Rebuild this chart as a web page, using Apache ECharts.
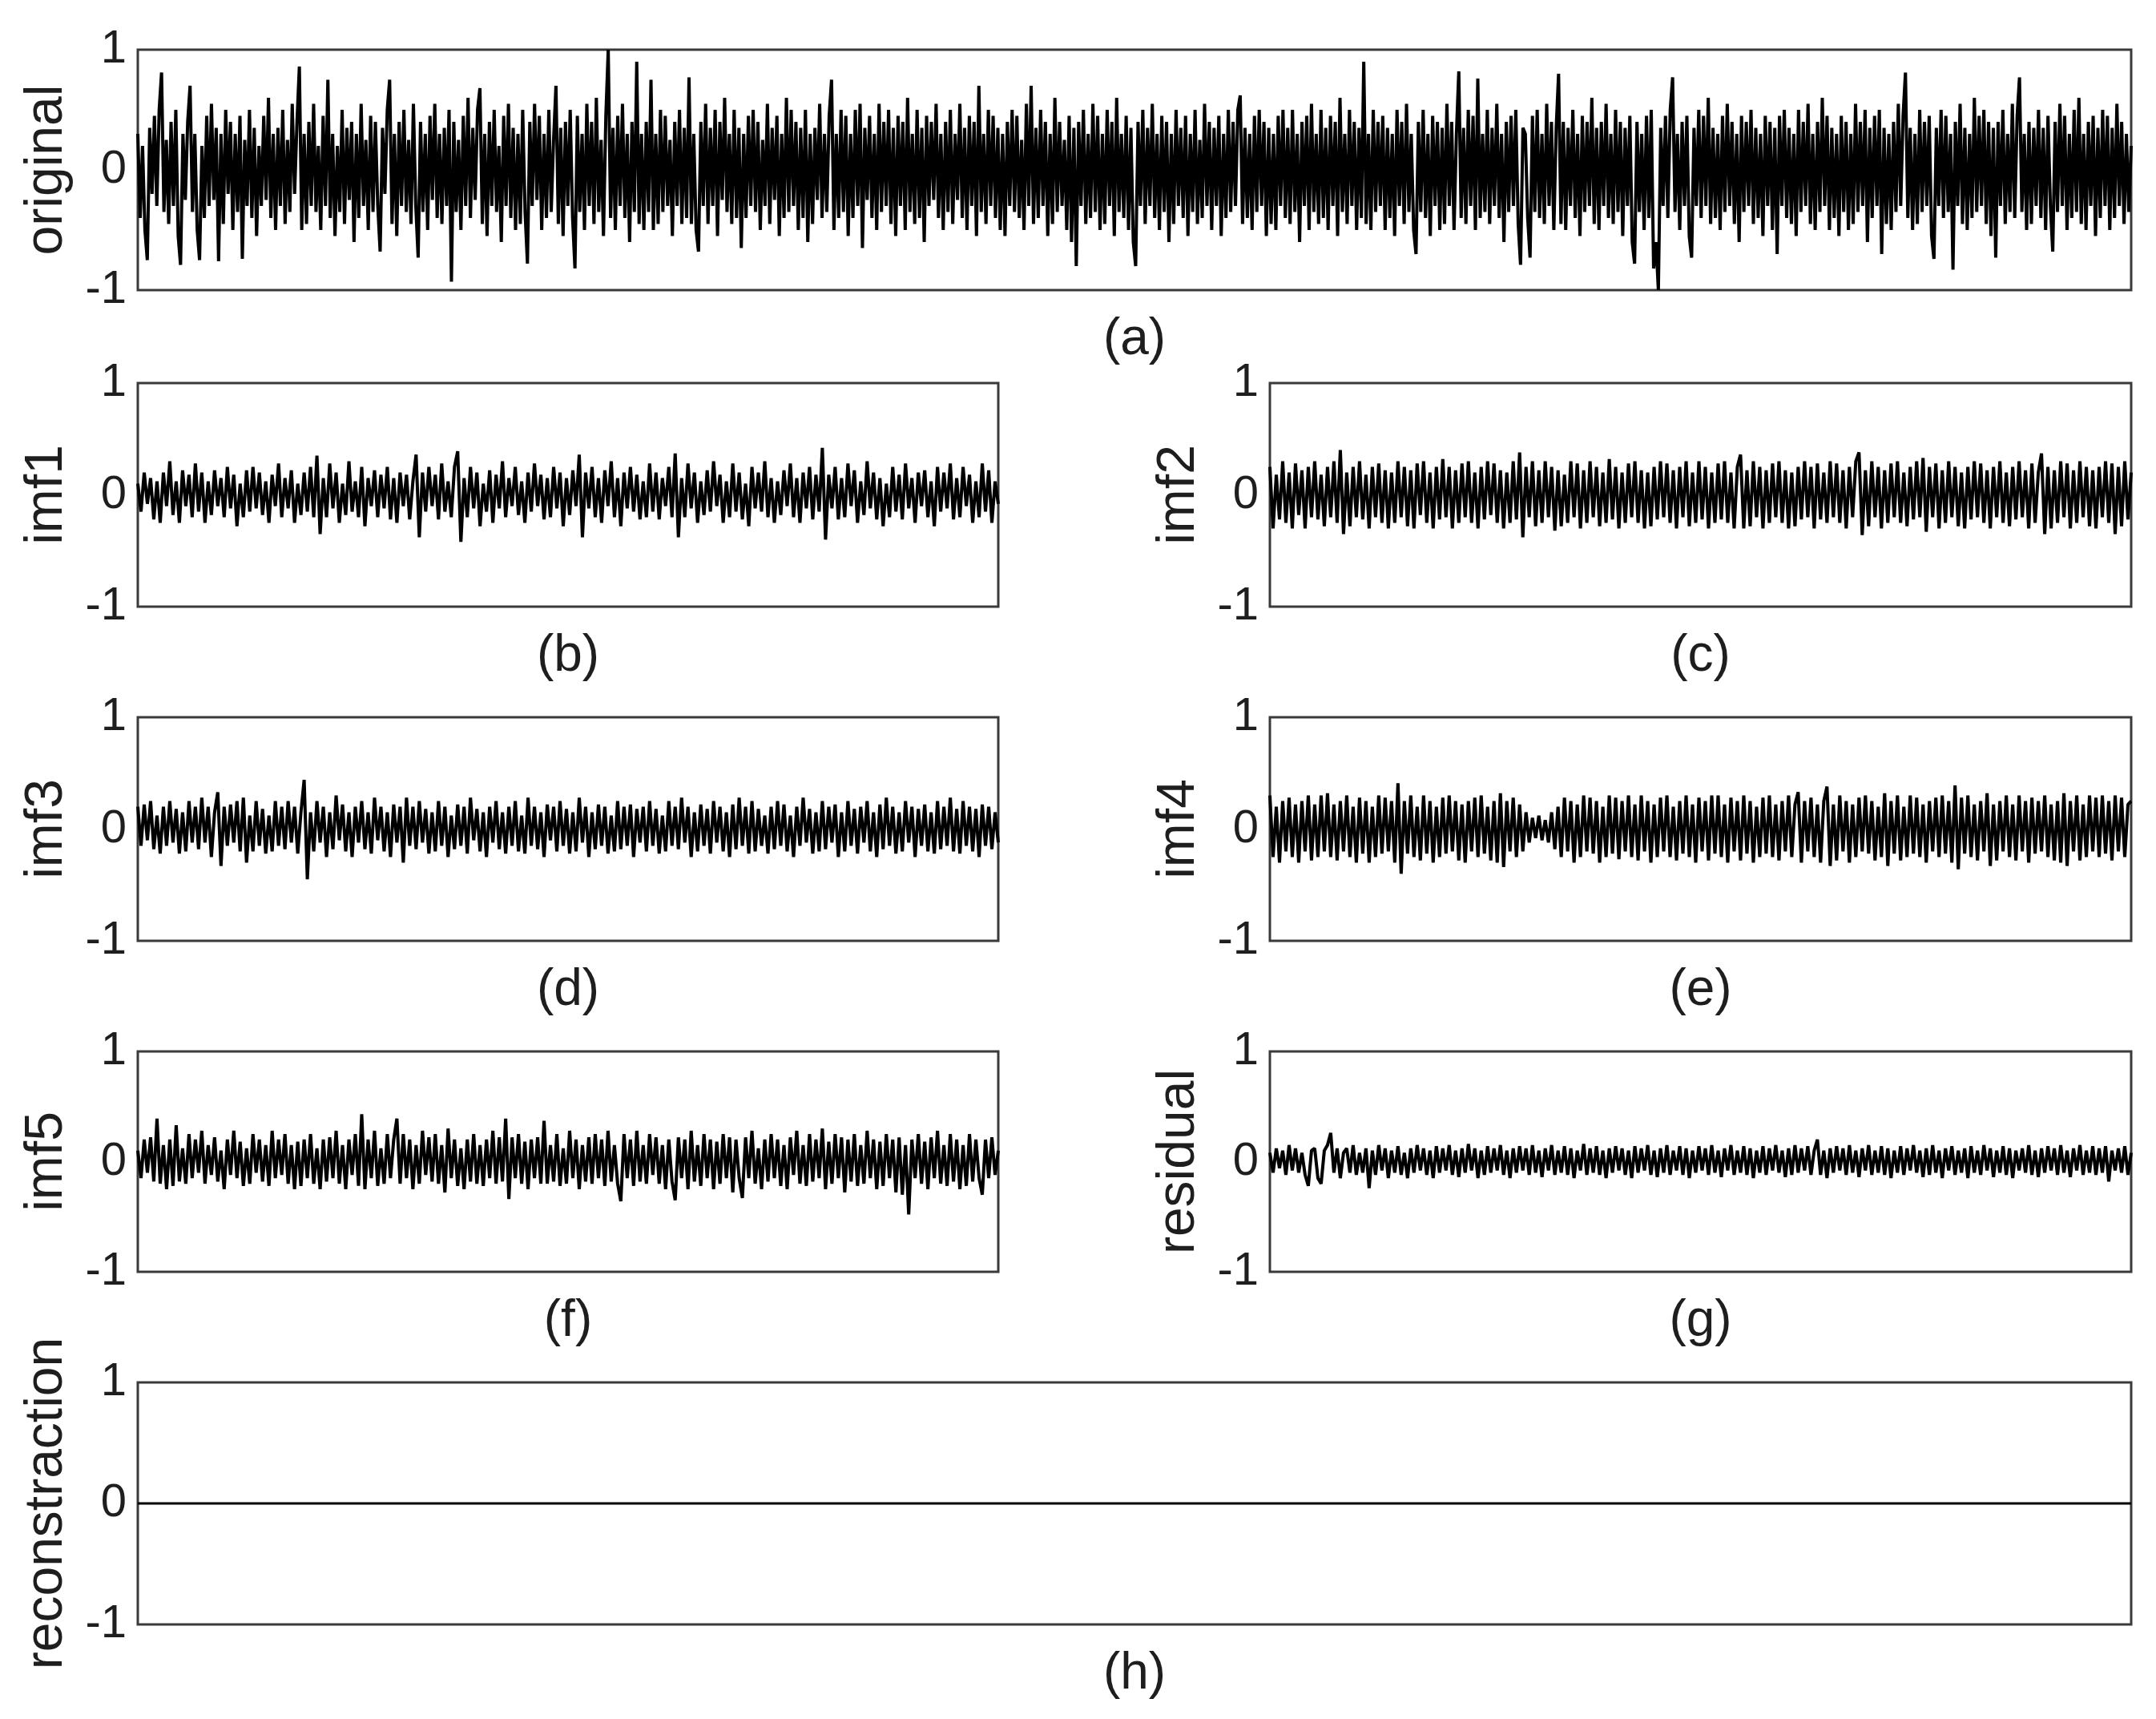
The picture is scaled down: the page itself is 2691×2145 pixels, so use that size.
<!DOCTYPE html>
<html>
<head>
<meta charset="utf-8">
<script src="https://cdn.jsdelivr.net/npm/echarts@6/dist/echarts.min.js"></script>
<style>html,body{margin:0;padding:0;background:#fff}#c{width:2691px;height:2145px}</style>
</head>
<body>
<div id="c"></div>
<script>
// ---- data (amplitude, normalised to the [-1,1] axes) ----
const panelNames = ['original','imf1','imf2','imf3','imf4','imf5','residual','reconstraction'];
const captions = ['(a)','(b)','(c)','(d)','(e)','(f)','(g)','(h)'];
const yTicks = [-1, 0, 1];

const original = [
.3,-.4,.2,-.5,-.75,.35,-.2,.45,-.3,.5,.81,-.35,.25,-.45,.4,-.3,.5,-.55,-.79,.3,
-.25,.4,.7,-.35,.3,-.5,-.75,.2,-.4,.45,-.3,.55,-.25,.35,-.76,.3,-.45,.5,-.2,.4,
-.5,.3,-.35,.45,-.74,.25,-.3,.5,-.4,.35,-.55,.2,-.3,.45,-.25,.6,-.4,.3,-.5,.35,
-.3,.5,-.45,.25,-.35,.55,-.2,.4,.86,-.5,.3,-.45,.4,-.3,.55,-.35,.2,-.5,.45,-.3,
.75,-.4,.3,-.55,.2,-.35,.5,-.45,.35,-.25,.4,-.6,.3,-.4,.55,-.3,.25,-.5,.45,-.35,
.4,-.3,-.68,.35,-.2,.5,.75,-.45,.3,-.55,.4,-.3,.5,-.35,.25,-.45,.55,-.3,-.73,.4,
-.35,.3,-.5,.45,-.25,.55,-.4,.3,-.45,.35,-.3,.5,-.93,.4,-.35,.25,-.5,.45,-.3,.6,
-.4,.35,-.25,.5,.68,-.45,.3,-.55,.4,-.3,.5,-.35,.2,-.6,.45,-.3,.55,-.4,.35,-.5,
.3,-.45,.5,-.35,-.78,.4,-.3,.55,-.25,.45,-.5,.3,-.4,.5,-.35,.25,.7,-.45,.35,-.55,
.4,-.3,.5,-.4,-.82,.45,-.35,.3,-.5,.55,-.3,.4,-.45,.6,-.35,.25,-.55,.45,1.0,-.4,
.35,-.5,.45,-.3,.55,-.4,.3,-.6,.4,-.35,.9,-.45,.3,-.5,.4,-.35,.75,-.5,.3,-.45,
.5,-.35,.45,-.3,.25,-.55,.4,-.3,.5,-.45,.35,-.4,.77,-.45,.3,-.5,-.68,.4,-.3,.55,
-.45,.35,-.3,.5,-.55,.4,-.25,.6,-.35,.3,-.45,.5,-.4,.35,-.65,.3,-.4,.45,-.3,.5,
-.35,.4,-.5,.25,-.3,.55,-.45,.35,-.25,.45,-.55,.3,-.4,.6,-.35,.5,-.3,.4,-.5,.35,
-.4,.5,-.6,.3,-.45,.35,-.25,.55,-.4,.3,-.35,.45,.75,-.5,.3,-.4,.5,-.35,.45,-.55,
.3,-.4,.5,-.3,.55,-.65,.35,-.25,.45,-.4,.3,-.5,.55,-.35,.4,-.3,.5,-.45,.35,-.55,
.45,-.3,.4,-.5,.6,-.35,.3,-.45,.5,-.4,.35,-.6,.45,-.3,.4,-.25,.55,-.4,.3,-.5,
.4,-.35,.5,-.45,.3,-.25,.55,-.4,.35,-.5,.45,-.3,.4,-.55,.7,-.35,.3,-.45,.5,-.3,
.45,-.4,.35,-.5,.3,-.55,.4,-.3,.5,-.35,.45,-.4,.25,-.5,.55,-.3,.7,-.45,.35,-.4,
.5,-.3,.4,-.55,.3,-.45,.6,-.35,.4,-.3,.25,-.5,.45,-.6,.35,-.8,.4,-.3,.5,-.45,
.3,-.4,.55,-.35,.45,-.5,.3,-.45,.5,-.3,.4,-.55,.6,-.35,.3,-.4,.45,-.5,.35,-.6,
-.8,.4,-.3,.5,-.45,.35,-.3,.55,-.4,.3,-.5,.45,-.35,.4,-.6,.3,-.45,.5,-.3,.35,
-.4,.45,-.55,.3,-.35,.5,-.45,.25,-.4,.55,-.3,.4,-.5,.35,-.3,.45,-.55,.3,-.4,.5,
-.35,.4,-.3,.5,.62,-.45,.35,-.4,.3,-.5,.45,-.35,.5,-.3,.4,-.55,.35,-.45,.3,-.5,
.45,-.3,.5,-.4,.35,-.45,.5,-.35,.3,-.6,.4,-.3,.45,-.5,.55,-.35,.3,-.45,.5,-.4,
.35,-.5,.45,-.3,.4,-.55,.6,-.35,.3,-.45,.5,-.3,.4,-.5,.35,-.4,.9,-.45,.3,-.5,
.5,-.35,.4,-.3,.45,-.5,.35,-.4,.3,-.55,.5,-.3,.4,-.45,.55,-.35,.3,-.5,-.7,.4,
-.35,.5,-.4,.3,-.55,.45,-.3,.4,-.5,.35,-.45,.55,-.3,.4,-.5,.3,.82,-.4,.35,-.45,
.5,-.3,.45,-.5,.76,-.4,.3,-.35,.5,-.45,.35,-.3,.55,-.4,.3,-.6,.4,-.35,.45,-.3,
.5,-.45,-.79,.35,.3,-.4,-.73,.45,-.35,.5,-.4,.3,-.45,.55,-.3,.4,-.5,.35,.8,-.45,
.4,-.5,.35,-.3,.5,-.4,.3,-.55,.45,-.35,.4,-.3,.6,-.45,.35,-.5,.4,-.3,.55,-.4,
.3,-.45,.5,-.35,.4,-.55,.35,-.3,.45,-.6,-.78,.4,-.35,.3,-.5,.45,-.4,.5,-.82,-.6,
-1.0,.35,-.3,.45,-.4,.5,.77,-.35,.3,-.5,.4,-.3,.45,-.55,-.73,.35,-.3,.5,-.4,.45,
-.3,.6,-.45,.35,-.4,.3,-.5,.45,-.35,.55,-.3,.4,-.45,.3,-.6,.45,-.35,.4,-.3,.5,
-.45,.35,-.4,.3,-.55,.45,-.3,.4,-.5,.35,-.7,.45,-.3,.5,-.4,.35,-.45,.3,-.55,.5,
-.35,.4,-.3,.55,-.45,.3,-.5,.4,-.35,.6,-.3,.45,-.5,.35,-.4,.3,-.55,.45,-.35,.4,
-.5,.3,-.45,.55,-.35,.4,-.3,.5,-.6,.35,-.4,.45,-.3,.5,-.7,.35,-.45,.3,-.5,.4,
-.35,.55,-.3,.45,.81,-.4,.35,-.5,.3,-.45,.5,-.35,.4,-.3,.45,-.55,-.74,.35,-.3,.5,
-.4,.45,-.35,.3,-.83,.4,-.3,.55,-.45,.35,-.5,.3,-.4,.6,-.35,.45,-.3,.5,-.45,.4,
-.55,.35,-.73,.4,-.3,.5,-.45,.3,-.35,.55,-.4,.45,.77,-.35,.3,-.5,.4,-.45,.35,-.3,
.5,-.4,.35,-.5,.45,-.3,-.68,.4,-.35,.55,-.3,.45,-.5,.3,-.4,.5,-.35,.6,-.45,.3,
-.5,.4,-.3,.45,-.55,.35,-.4,.5,-.3,.45,-.5,.35,-.4,.55,-.3,.4,-.45,.3,-.35,.2
];

const imf1 = [
.1,-.15,.2,-.08,.15,-.22,.12,-.25,.2,-.1,.3,-.18,.12,-.25,.22,-.1,.18,-.2,.28,-.15,
.2,-.25,.12,-.18,.22,-.1,.15,-.2,.25,-.12,.18,-.28,.1,-.2,.22,-.15,.25,-.12,.2,-.18,
.12,-.25,.18,-.1,.28,-.2,.15,-.12,.22,-.25,.1,-.18,.2,-.15,.25,-.2,.35,-.35,.15,-.2,
.28,-.12,.2,-.25,.1,-.18,.3,-.15,.12,-.2,.25,-.28,.15,-.1,.22,-.2,.18,-.12,.25,-.22,
.15,-.25,.2,-.1,.18,-.22,.12,.36,-.38,.2,-.15,.25,-.1,.18,-.22,.28,-.15,.12,-.2,.25,
.39,-.42,.15,-.2,.25,-.12,.2,-.28,.1,-.15,.22,-.25,.18,-.12,.3,-.2,.15,-.1,.25,-.18,
.12,-.25,.2,-.15,.28,-.1,.18,-.22,.15,-.2,.25,-.12,.2,-.28,.15,-.18,.22,-.1,.36,-.38,
.2,-.12,.25,-.2,.15,-.25,.22,-.1,.3,-.2,.15,-.28,.2,-.12,.25,-.15,.18,-.22,.12,-.2,
.28,-.15,.2,-.22,.15,-.1,.25,-.2,.37,-.38,.15,-.2,.28,-.12,.2,-.25,.12,-.18,.22,-.15,
.3,-.1,.18,-.25,.12,-.2,.28,-.15,.2,-.22,.1,-.28,.25,-.12,.2,-.15,.3,-.2,.15,-.25,
.12,-.18,.22,-.1,.28,-.2,.15,-.25,.2,-.12,.25,-.22,.18,-.15,.42,-.4,.18,-.12,.25,-.22,
.15,-.2,.28,-.1,.22,-.25,.12,-.18,.3,-.12,.2,-.22,.15,-.28,.1,-.2,.25,-.15,.18,-.22,
.28,-.12,.15,-.25,.2,-.1,.22,-.2,.12,-.28,.25,-.15,.2,-.12,.28,-.22,.15,-.2,.25,-.1,
.18,-.25,.12,-.2,.28,-.15,.22,-.25,.12,-.08
];

const imf2 = [
.25,-.3,.18,-.22,.3,-.25,.2,-.3,.28,-.18,.22,-.3,.25,-.2,.3,-.22,.18,-.28,.25,-.2,
.3,-.25,.4,-.35,.2,-.28,.25,-.2,.3,-.22,.18,-.3,.25,-.2,.28,-.25,.22,-.3,.2,-.25,
.3,-.2,.25,-.28,.22,-.3,.28,-.18,.3,-.25,.2,-.3,.25,-.22,.32,-.2,.25,-.3,.22,-.25,
.28,-.2,.3,-.25,.2,-.3,.25,-.22,.3,-.18,.28,-.25,.22,-.3,.2,-.25,.3,-.22,.38,-.38,
.25,-.2,.3,-.28,.22,-.25,.3,-.2,.25,-.32,.22,-.28,.18,-.25,.3,-.2,.28,-.3,.22,-.25,
.3,-.2,.25,-.28,.2,-.25,.32,-.22,.25,-.3,.2,-.25,.28,-.2,.3,-.25,.22,-.3,.2,-.28,
.25,-.22,.3,-.2,.28,-.25,.22,-.3,.25,-.2,.3,-.28,.2,-.25,.3,-.22,.25,-.3,.2,-.25,
.28,-.22,.3,-.25,.2,-.3,.25,.36,-.3,.22,-.28,.3,-.2,.25,-.3,.22,-.25,.28,-.2,.3,
-.25,.22,-.3,.2,-.28,.25,-.22,.3,-.2,.25,-.3,.28,-.22,.2,-.25,.3,-.2,.28,-.25,.22,
-.3,.25,-.2,.3,.38,-.36,.22,-.28,.3,-.2,.25,-.3,.22,-.25,.28,-.2,.3,-.25,.2,-.28,
.25,-.22,.3,-.2,.33,-.33,.25,-.2,.28,-.3,.22,-.25,.3,-.2,.25,-.28,.2,-.3,.25,-.22,
.3,-.2,.28,-.25,.22,-.3,.25,-.2,.3,-.25,.2,-.28,.25,-.22,.3,-.2,.22,-.3,.28,-.25,
.2,.37,-.35,.25,-.3,.22,-.25,.3,-.2,.28,-.3,.22,-.25,.3,-.2,.25,-.28,.22,-.3,.25,
-.2,.3,-.25,.28,-.35,.25,-.28,.3,-.22,.2
];

const imf3 = [
.2,-.15,.22,-.1,.25,-.18,.12,-.22,.2,-.15,.25,-.12,.18,-.22,.15,-.2,.25,-.12,.2,-.18,
.28,-.12,.2,-.25,.15,.33,-.33,.2,-.15,.22,-.12,.25,-.2,.28,-.3,.12,-.2,.25,-.15,.18,
-.22,.12,-.2,.25,-.15,.2,-.18,.25,-.12,.2,-.22,.15,.44,-.45,.15,-.2,.25,-.12,.2,-.25,
.15,-.18,.3,-.1,.22,-.2,.15,-.25,.2,-.12,.25,-.18,.15,-.22,.28,-.1,.2,-.2,.15,-.25,
.22,-.12,.2,-.3,.28,-.15,.2,-.18,.25,-.12,.18,-.22,.15,-.2,.25,-.15,.2,-.25,.12,-.18,
.22,-.15,.2,-.22,.28,-.1,.18,-.2,.15,-.25,.2,-.12,.25,-.18,.15,-.22,.2,-.15,.25,-.2,
.12,-.22,.28,-.15,.2,-.18,.15,-.25,.22,-.1,.2,-.2,.25,-.15,.18,-.22,.15,-.2,.28,-.12,
.2,-.25,.15,-.18,.22,-.15,.2,-.22,.12,-.2,.25,-.18,.2,-.15,.22,-.25,.18,-.12,.2,-.2,
.25,-.15,.18,-.22,.12,-.2,.25,-.15,.2,-.18,.28,-.12,.2,-.25,.15,-.2,.22,-.15,.18,-.22,
.25,-.12,.2,-.2,.15,-.25,.22,-.18,.28,-.15,.2,-.22,.25,-.2,.18,-.15,.12,-.22,.2,-.18,
.25,-.15,.22,-.2,.12,-.25,.2,-.15,.28,-.12,.18,-.22,.15,-.2,.25,-.18,.2,-.12,.22,-.25,
.15,-.2,.25,-.15,.18,-.22,.2,-.12,.25,-.2,.15,-.25,.22,-.18,.28,-.15,.2,-.22,.15,-.2,
.25,-.12,.2,-.25,.18,-.15,.22,-.2,.15,-.22,.25,-.18,.2,-.15,.28,-.2,.18,-.22,.25,-.15,
.2,-.2,.18,-.25,.22,-.15,.2,-.18,.15,-.12
];

const imf4 = [
.3,-.25,.2,-.3,.25,-.2,.28,-.25,.22,-.3,.25,-.2,.3,-.28,.22,-.25,.3,-.2,.32,-.25,
.22,-.28,.25,-.2,.3,-.25,.2,-.3,.28,-.22,.25,-.3,.2,-.25,.3,-.22,.28,-.2,.25,-.3,
.41,-.4,.25,-.22,.3,-.25,.2,-.28,.3,-.22,.25,-.3,.2,-.25,.28,-.22,.3,-.2,.25,-.28,
.22,-.3,.25,-.2,.28,-.25,.3,-.22,.2,-.28,.25,-.3,.32,-.34,.25,-.2,.28,-.25,.22,-.2,
.15,-.12,.1,-.08,.12,-.1,.08,-.12,.15,-.18,.2,-.25,.28,-.2,.25,-.3,.22,-.25,.3,-.2,
.28,-.22,.25,-.3,.2,-.25,.3,-.22,.28,-.27,.25,-.2,.3,-.25,.22,-.28,.3,-.2,.25,-.3,
.22,-.25,.28,-.2,.3,-.25,.2,-.28,.25,-.22,.3,-.25,.22,-.3,.28,-.2,.25,-.28,.3,-.22,
.3,-.25,.22,-.3,.28,-.2,.25,-.28,.3,-.22,.25,-.3,.2,-.25,.28,-.22,.3,-.25,.22,-.28,
.25,-.2,.3,-.25,.22,.33,-.3,.25,-.2,.28,-.25,.22,-.3,.25,.38,-.33,.22,-.28,.3,-.2,
.25,-.3,.22,-.25,.28,-.2,.3,-.22,.25,-.28,.2,-.25,.32,-.33,.25,-.22,.3,-.28,.2,-.25,
.3,-.22,.28,-.25,.22,-.3,.25,-.2,.28,-.25,.3,-.22,.25,-.3,.39,-.36,.28,-.22,.3,-.25,
.22,-.28,.25,-.2,.32,-.33,.22,-.28,.25,-.2,.3,-.25,.22,-.28,.3,-.2,.25,-.3,.28,-.22,
.25,-.2,.3,-.25,.22,-.28,.25,-.3,.32,-.33,.25,-.2,.3,-.28,.22,-.25,.3,-.2,.28,-.25,
.3,-.22,.25,-.28,.3,-.2,.28,-.25,.22,.25
];

const imf5 = [
.1,-.15,.2,-.1,.22,-.18,.39,-.2,.15,-.25,.2,-.22,.33,-.18,.12,-.2,.25,-.15,.2,-.1,
.28,-.2,.15,-.12,.22,-.18,.1,-.25,.2,-.12,.28,-.15,.18,-.22,.12,-.2,.25,-.1,.2,-.18,
.15,-.22,.28,-.15,.2,-.12,.25,-.2,.15,-.25,.18,-.22,.2,-.15,.25,-.2,.12,-.25,.2,-.18,
.22,-.15,.28,-.2,.15,-.25,.2,-.12,.25,-.22,.43,-.25,.2,-.15,.28,-.22,.12,-.2,.25,-.15,
.2,.39,-.2,.25,-.15,.2,-.25,.15,-.2,.28,-.12,.22,-.18,.25,-.2,.15,-.28,.3,-.15,.2,
-.22,.12,-.25,.2,-.18,.25,-.2,.15,-.22,.2,-.15,.28,-.2,.22,-.18,.39,-.34,.22,-.15,.25,
-.2,.18,-.25,.2,-.15,.22,-.2,.37,-.2,.15,-.18,.25,-.22,.12,-.2,.28,-.15,.2,-.25,.15,
-.18,.22,-.2,.25,-.15,.2,-.22,.28,-.18,.15,-.2,-.36,.25,-.15,.2,-.22,.28,-.18,.15,-.2,
.25,-.12,.22,-.2,.15,-.25,.2,-.18,-.35,.22,-.15,.2,-.25,.28,-.18,.15,-.22,.25,-.15,.2,
-.25,.18,-.2,.25,-.15,.22,-.28,.2,-.15,-.33,.22,-.15,.28,-.2,.12,-.25,.2,-.18,.25,-.15,
.2,-.22,.15,-.25,.22,-.12,.28,-.2,.15,-.22,.25,-.18,.2,-.15,.3,-.25,.18,-.2,.25,-.15,
.22,-.28,.2,-.18,.25,-.22,.15,-.2,.28,-.15,.2,-.25,.18,-.22,.25,-.15,.2,-.28,.22,-.3,
.15,-.48,.2,-.15,.25,-.2,.18,-.25,.22,-.15,.28,-.2,.15,-.22,.25,-.18,.2,-.25,.15,-.22,
.25,-.18,.2,-.15,-.3,.2,-.15,.22,-.12,.1
];

const residual = [
.08,-.1,.12,-.06,.1,-.12,.15,-.08,.12,-.1,.08,-.12,-.22,.1,.12,-.15,-.2,.1,.15,.26,
-.1,.12,-.15,.08,.12,-.1,.15,-.12,.08,-.1,.12,-.24,.1,-.12,.15,-.08,.12,-.15,.1,-.1,
.14,-.12,.08,-.15,.12,-.1,.15,-.08,.12,-.12,.1,-.15,.14,-.1,.12,-.08,.15,-.12,.1,-.14,
.12,-.1,.16,-.08,.12,-.15,.1,-.12,.14,-.1,.12,-.08,.15,-.12,.1,-.15,.12,-.1,.14,-.08,
.12,-.12,.15,-.1,.1,-.14,.12,-.08,.15,-.12,.1,-.1,.14,-.12,.12,-.15,.1,-.08,.16,-.12,
.12,-.1,.14,-.12,.1,-.15,.12,-.1,.14,-.08,.12,-.12,.1,-.15,.14,-.1,.12,-.08,.15,-.12,
.1,-.14,.12,-.1,.15,-.12,.1,-.08,.14,-.12,.12,-.15,.1,-.1,.14,-.08,.12,-.12,.15,-.1,
.1,-.14,.12,-.08,.15,-.12,.1,-.1,.14,-.12,.12,-.15,.1,-.1,.14,-.12,.12,-.08,.15,-.1,
.1,-.14,.12,-.12,.15,-.1,.12,-.08,.14,-.12,.1,.2,-.12,.1,-.15,.12,-.1,.14,-.08,.12,
-.12,.15,-.1,.1,-.14,.12,-.08,.15,-.12,.1,-.1,.14,-.12,.12,-.15,.1,-.1,.14,-.12,.12,
-.08,.15,-.1,.1,-.14,.12,-.12,.15,-.1,.1,-.15,.12,-.08,.14,-.12,.1,-.1,.12,-.15,.14,
-.1,.1,-.12,.15,-.08,.12,-.14,.1,-.1,.14,-.12,.12,-.15,.1,-.08,.12,-.1,.15,-.12,.1,
-.14,.12,-.1,.14,-.08,.12,-.12,.15,-.1,.1,-.14,.12,-.08,.15,-.12,.1,-.1,.14,-.12,.12,
-.1,.14,-.18,.1,-.08,.12,-.1,.14,-.12,.08
];

const reconstraction = [0,0,0,0,0,0,0,0,0,0];

// ---- layout / styling ----
const seriesData = [original, imf1, imf2, imf3, imf4, imf5, residual, reconstraction];
const lineWidths = [4, 4, 4, 4, 4, 4, 4, 3];
const boxes = [
  {left:172, top:62,   width:2488, height:300},
  {left:172, top:478,  width:1074, height:279},
  {left:1585,top:478,  width:1075, height:279},
  {left:172, top:895,  width:1074, height:279},
  {left:1585,top:895,  width:1075, height:279},
  {left:172, top:1312, width:1074, height:275},
  {left:1585,top:1312, width:1075, height:275},
  {left:172, top:1725, width:2488, height:302}
];
const FONT = 'Liberation Sans, Arial, sans-serif';
const TXT = '#1e1e1e';

const grid = [], xAxis = [], yAxis = [], series = [];
boxes.forEach((b, i) => {
  grid.push(Object.assign({show:true, borderColor:'#3a3a3a', borderWidth:3, backgroundColor:'#fff', containLabel:false}, b));
  xAxis.push({
    type:'category', gridIndex:i, boundaryGap:false,
    data: seriesData[i].map((_, k) => k),
    axisLine:{show:false}, axisTick:{show:false}, axisLabel:{show:false}, splitLine:{show:false},
    name: captions[i], nameLocation:'middle', nameGap: 30,
    nameTextStyle:{fontFamily:FONT, fontSize:64, color:TXT, lineHeight:64}
  });
  yAxis.push({
    type:'value', gridIndex:i, min:yTicks[0], max:yTicks[2], interval:1,
    axisLine:{show:false}, axisTick:{show:false}, splitLine:{show:false},
    axisLabel:{show:true, fontFamily:FONT, fontSize:58, color:TXT, margin:14},
    name: panelNames[i], nameLocation:'middle', nameGap: 80,
    nameTextStyle:{fontFamily:FONT, fontSize:66, color:TXT, lineHeight:66}
  });
  series.push({
    type:'line', xAxisIndex:i, yAxisIndex:i, data: seriesData[i],
    showSymbol:false, symbol:'none', silent:true, animation:false,
    lineStyle:{color:'#000', width: lineWidths[i], join:'bevel'}
  });
});

const chart = echarts.init(document.getElementById('c'), null, {renderer:'canvas'});
chart.setOption({animation:false, backgroundColor:'#fff', grid, xAxis, yAxis, series});
</script>
</body>
</html>
